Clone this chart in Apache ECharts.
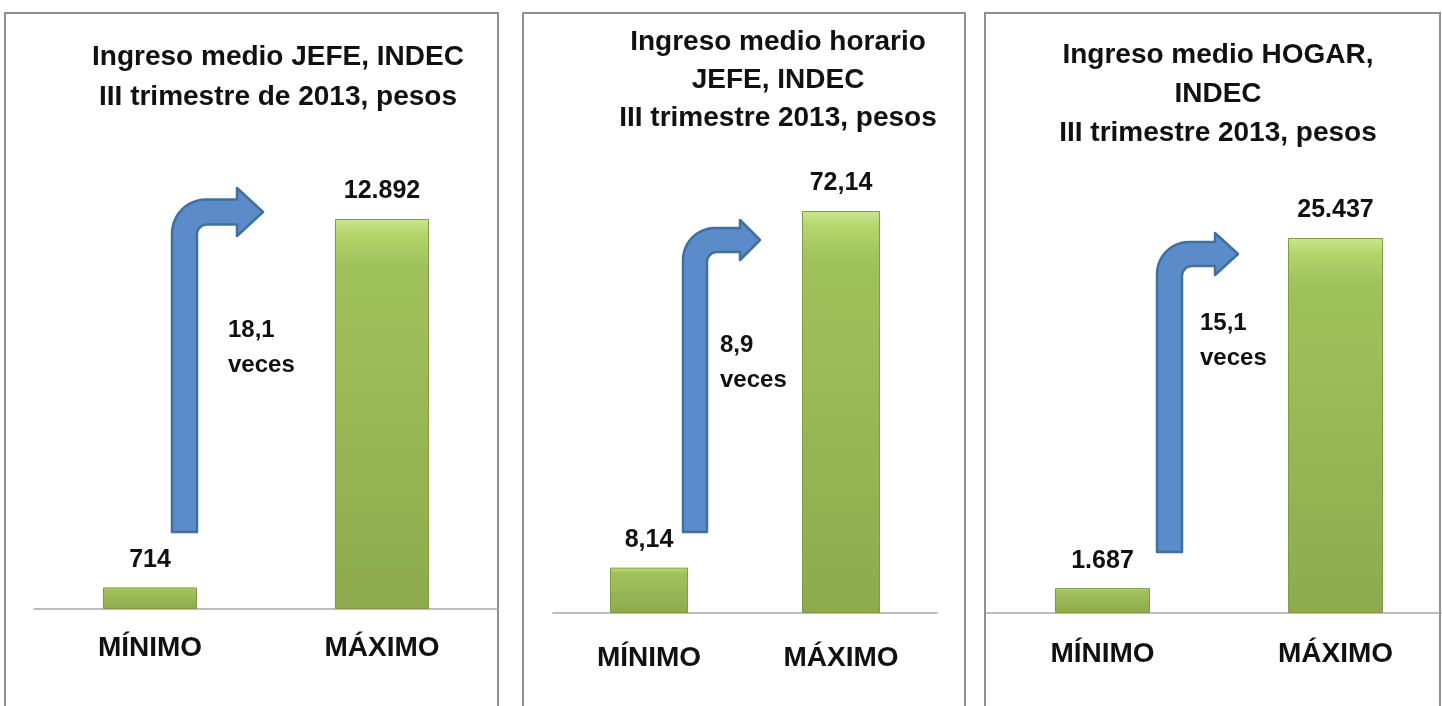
<!DOCTYPE html>
<html><head><meta charset="utf-8">
<script src="https://cdn.jsdelivr.net/npm/echarts/dist/echarts.min.js"></script>
<style>html,body{margin:0;padding:0;background:#fff}#c{width:1442px;height:706px}</style>
</head><body><div id="c"></div>
<script>
// ---- data ----
const categories = ['MÍNIMO', 'MÁXIMO'];
const jefeValues = [714, 12892];
const horarioValues = [8.14, 72.14];
const hogarValues = [1687, 25437];
const panelTitles = [
  'Ingreso medio JEFE, INDEC\nIII trimestre de 2013, pesos',
  'Ingreso medio horario\nJEFE, INDEC\nIII trimestre 2013, pesos',
  'Ingreso medio HOGAR,\nINDEC\nIII trimestre 2013, pesos'
];
const ratioTexts = ['18,1\nveces', '8,9\nveces', '15,1\nveces'];

// ---- helpers ----
const FONT = 'Liberation Sans, Arial, sans-serif';
const fmtThousands = v => String(v).replace(/\B(?=(\d{3})+(?!\d))/g, '.');
const fmtDecimal = v => v.toFixed(2).replace('.', ',');

const barGradient = {
  type: 'linear', x: 0, y: 0, x2: 0, y2: 1,
  colorStops: [
    {offset: 0, color: '#cbe78e'},
    {offset: 0.04, color: '#b3d56b'},
    {offset: 0.12, color: '#a0c25c'},
    {offset: 1, color: '#8dab4e'}
  ]
};

const grids = [
  {left: 34, top: 219, width: 464, height: 390},
  {left: 553, top: 211, width: 384, height: 402},
  {left: 986, top: 238, width: 466, height: 375}
];
const seriesData = [jefeValues, horarioValues, hogarValues];
const formatters = [fmtThousands, fmtDecimal, fmtThousands];
const barWidths = [94, 78, 95];
const labelMargins = [25, 31, 27];
const yMax = [jefeValues[1], horarioValues[1], hogarValues[1]];

const titleCfg = [
  {x: 278, top: 37, lh: 40},
  {x: 778, top: 23, lh: 38},
  {x: 1218, top: 36, lh: 39}
];

function arc(cx, cy, rad, a0, a1, n) {
  const pts = [];
  for (let k = 0; k <= n; k++) {
    const a = a0 + (a1 - a0) * k / n;
    pts.push([cx + rad * Math.cos(a), cy + rad * Math.sin(a)]);
  }
  return pts;
}
function arrowPoints(a) {
  const {xl, xr, yb, tipX, tipY, t, headH, baseX, R, r} = a;
  const yo = tipY - t / 2, yi = tipY + t / 2;
  const hT = tipY - headH / 2, hB = tipY + headH / 2;
  let pts = [[xl, yb]];
  pts = pts.concat(arc(xl + R, yo + R, R, Math.PI, 1.5 * Math.PI, 12));
  pts.push([baseX, yo], [baseX, hT], [tipX, tipY], [baseX, hB], [baseX, yi]);
  pts = pts.concat(arc(xr + r, yi + r, r, 1.5 * Math.PI, Math.PI, 8));
  pts.push([xr, yb]);
  return pts;
}
const arrows = [
  {xl: 172, xr: 197, yb: 532, tipX: 263, tipY: 212, t: 25, headH: 48, baseX: 237, R: 34, r: 10},
  {xl: 683, xr: 707, yb: 532, tipX: 760, tipY: 240, t: 24, headH: 40, baseX: 740, R: 32, r: 10},
  {xl: 1157, xr: 1182, yb: 552, tipX: 1238, tipY: 254, t: 24, headH: 42, baseX: 1215, R: 32, r: 10}
];
const ratioPos = [{x: 228, y: 313}, {x: 720, y: 328}, {x: 1200, y: 306}];
const frames = [{x: 5, w: 493}, {x: 523, w: 442}, {x: 985, w: 455}];

const option = {
  backgroundColor: '#fff',
  animation: false,
  title: panelTitles.map((txt, i) => ({
    text: txt,
    left: titleCfg[i].x,
    top: titleCfg[i].top,
    textAlign: 'center',
    padding: 0,
    textStyle: {fontFamily: FONT, fontSize: 28, fontWeight: 'bold', color: '#111', lineHeight: titleCfg[i].lh}
  })),
  grid: grids.map(g => Object.assign({containLabel: false, outerBoundsMode: 'none'}, g)),
  xAxis: grids.map((g, i) => ({
    type: 'category', gridIndex: i, data: categories,
    axisLine: {lineStyle: {color: '#a8a8a8', width: 1.5}},
    axisTick: {show: false},
    axisLabel: {fontFamily: FONT, fontSize: 28, fontWeight: 'bold', color: '#111', margin: labelMargins[i]}
  })),
  yAxis: grids.map((g, i) => ({
    type: 'value', gridIndex: i, min: 0, max: yMax[i],
    show: false, splitLine: {show: false}
  })),
  series: seriesData.map((d, i) => ({
    type: 'bar', xAxisIndex: i, yAxisIndex: i, data: d,
    barWidth: barWidths[i],
    itemStyle: {color: barGradient, borderColor: '#7f9c42', borderWidth: 1},
    label: {
      show: true, position: 'top', distance: 15,
      fontFamily: FONT, fontSize: 25, fontWeight: 'bold', color: '#111',
      formatter: p => formatters[i](p.value)
    }
  })),
  graphic: [
    ...frames.map(f => ({
      type: 'rect', shape: {x: f.x, y: 13, width: f.w, height: 720},
      style: {fill: 'none', stroke: '#8f8f8f', lineWidth: 2}, z: 0
    })),
    ...arrows.map(a => ({
      type: 'polygon', shape: {points: arrowPoints(a)},
      style: {fill: '#5b8bc8', stroke: '#41709f', lineWidth: 2.5, lineJoin: 'round'}, z: 10
    })),
    ...ratioTexts.map((t, i) => ({
      type: 'text', x: ratioPos[i].x, y: ratioPos[i].y,
      style: {text: t, fontFamily: FONT, fontSize: 24, fontWeight: 'bold', fill: '#111', lineHeight: 35}, z: 10
    }))
  ]
};
const chart = echarts.init(document.getElementById('c'));
chart.setOption(option);
</script></body></html>
